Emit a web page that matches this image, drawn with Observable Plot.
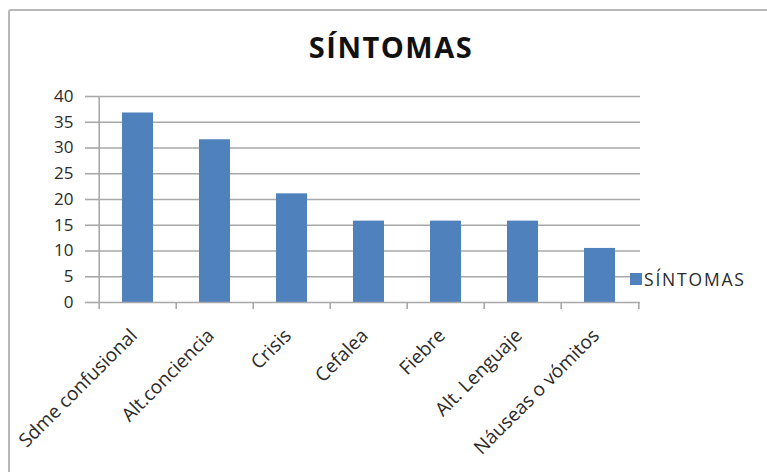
<!DOCTYPE html>
<html>
<head>
<meta charset="utf-8">
<script src="https://cdn.jsdelivr.net/npm/d3@7"></script>
<script src="https://cdn.jsdelivr.net/npm/@observablehq/plot@0.6"></script>
<style>
  body { margin: 0; background: #fff; }
  #wrap { position: relative; width: 767px; height: 472px; overflow: hidden; font-family: "Open Sans", sans-serif; }
  #frame { position: absolute; left: 8px; top: 9px; width: 820px; height: 520px; border: 2px solid #b8b8b8; border-radius: 3px; box-sizing: border-box; }
  #title { position: absolute; left: 0; top: 27px; width: 767px; padding-left: 15px; box-sizing: border-box; text-align: center; font-weight: 700; font-size: 29px; letter-spacing: 1.5px; color: #111; line-height: normal; }
  #legend { position: absolute; left: 630px; top: 267px; display: flex; align-items: center; font-size: 17.5px; color: #2a2a2a; letter-spacing: 1.8px; }
  #legend .sw { width: 12px; height: 12px; background: #4f81bd; margin-right: 2px; }
  #chart { position: absolute; left: 0; top: 0; }
</style>
</head>
<body>
<div id="wrap">
  <div id="frame"></div>
  <div id="chart"></div>
  <div id="title"></div>
  <div id="legend"><div class="sw"></div><span id="legtext"></span></div>
</div>
<script>
const titleText = "SÍNTOMAS";
const seriesName = "SÍNTOMAS";
const categories = ["Sdme confusional", "Alt.conciencia", "Crisis", "Cefalea", "Fiebre", "Alt. Lenguaje", "Náuseas o vómitos"];
const values = [36.8, 31.6, 21.1, 15.8, 15.8, 15.8, 10.5];
const yTicks = [0, 5, 10, 15, 20, 25, 30, 35, 40];

document.getElementById("title").textContent = titleText;
document.getElementById("legtext").textContent = seriesName;

const data = categories.map((c, i) => ({c, v: values[i]}));
const W = 767, H = 472, mL = 97, mR = 127, mT = 96, mB = 170;
const step = (W - mL - mR) / categories.length;
const grid = "#a8a8a8";

const chart = Plot.plot({
  width: W, height: H,
  marginLeft: mL, marginRight: mR, marginTop: mT, marginBottom: mB,
  style: {fontFamily: "Open Sans, sans-serif", fontSize: "16px", color: "#2a2a2a", background: "transparent"},
  x: {domain: categories, paddingInner: 0.6, paddingOuter: 0.3, label: null},
  y: {domain: [0, 40], label: null},
  marks: [
    Plot.ruleY(yTicks.slice(1), {stroke: grid, strokeWidth: 1.6}),
    Plot.barY(data, {x: "c", y: "v", fill: "#4f81bd"}),
    Plot.ruleY([0], {stroke: grid, strokeWidth: 1.6}),
    Plot.ruleX([categories[0]], {dx: -step / 2, y1: 0, y2: 40, stroke: grid, strokeWidth: 1.6}),
    Plot.ruleX(categories, {dx: -step / 2, y1: 0, y2: 0, insetBottom: -7, stroke: grid, strokeWidth: 1.6}),
    Plot.ruleX([categories[categories.length - 1]], {dx: step / 2, y1: 0, y2: 0, insetBottom: -7, stroke: grid, strokeWidth: 1.6}),
    Plot.axisY({ticks: yTicks, tickSize: 12, tickPadding: 12, stroke: grid, strokeWidth: 1.6, fill: "#2a2a2a", fontSize: 17, label: null}),
    Plot.axisX({tickSize: 0, tickRotate: -45, tickPadding: 30, dx: -4, fill: "#2a2a2a", fontSize: 19, label: null})
  ]
});
document.getElementById("chart").appendChild(chart);
</script>
</body>
</html>
